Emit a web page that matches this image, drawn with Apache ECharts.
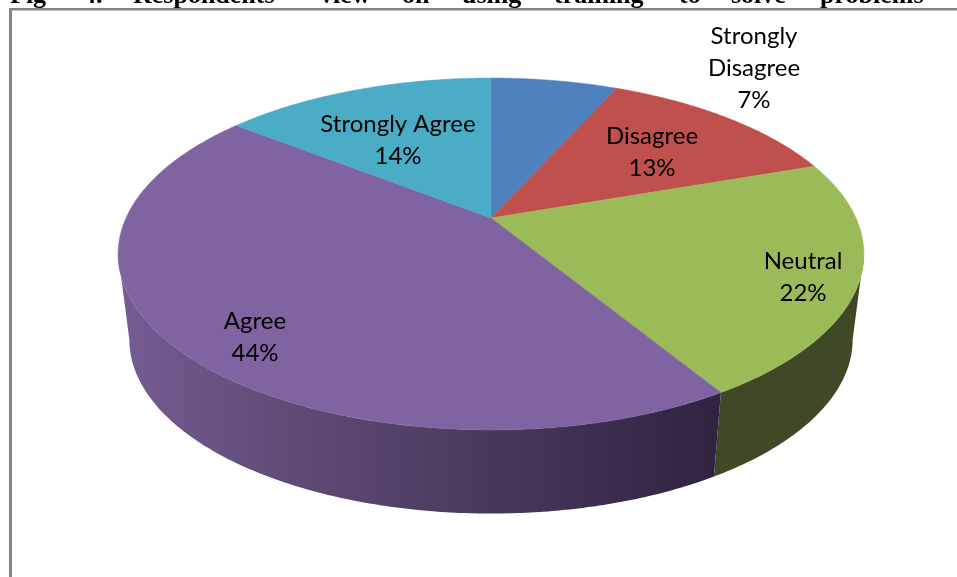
<!DOCTYPE html>
<html>
<head>
<meta charset="utf-8">
<style>
	html, body { margin: 0; padding: 0; background: #fff; }
	#main { width: 957px; height: 577px; }
</style>
<script src="https://cdn.jsdelivr.net/npm/echarts@6/dist/echarts.min.js"></script>
</head>
<body>
<div id="main"></div>
<script>
	// data (shown labels are the rounded values)
	var categories = ['Strongly Disagree', 'Disagree', 'Neutral', 'Agree', 'Strongly Agree'];
	var values = [6.7, 13.0, 21.6, 44.3, 14.4];
	var labelLines = [['Strongly', 'Disagree'], ['Disagree'], ['Neutral'], ['Agree'], ['Strongly Agree']];
	var titleWords = ['Fig', '4.', 'Respondents', 'view', 'on', 'using', 'training', 'to', 'solve', 'problems'];

	// layout + styles
	var titleX = [10, 83, 133, 320, 402, 462, 554, 679, 731, 820];
	var labelCenter = [[754, 36], [652, 136], [803, 261], [255, 321], [398, 124]];
	var topColors = ['#4f81bd', '#c0504d', '#9bbb59', '#8064a2', '#4bacc6'];
	var sideGradient = {
		type: 'linear', x: 0, y: 0, x2: 1, y2: 0,
		colorStops: [
			{offset: 0, color: '#755c93'},
			{offset: 0.3, color: '#5f4a75'},
			{offset: 1, color: '#2f2340'}
		]
	};
	var sideColors = ['#2b4560', '#672b29', '#404926', sideGradient, '#28606f'];

	// the pie is a tilted disc, so the apex sits above the centre of the ellipse
	var persp = 0.2045;
	var topFace = {x: 491, y: 218, a: 365, b: 168.6};
	var lowFace = {x: 491, y: 304, a: 354, b: 166.7};

	var total = values.reduce(function(s, v) { return s + v; }, 0);
	var starts = [];
	values.reduce(function(s, v, i) {
		starts[i] = s;
		return s + v;
	}, 0);

	function project(face, ang) {
		var w = 1 + persp * Math.cos(ang);
		return [face.x + face.a * Math.sin(ang) / w, face.y - face.b * Math.cos(ang) / w];
	}

	function rim(face, from, to) {
		var pts = [];
		var n = Math.max(2, Math.ceil(Math.abs(to - from) / 0.01));
		for (var i = 0; i <= n; i++) {
			pts.push(project(face, from + (to - from) * i / n));
		}
		return pts;
	}

	function sliceAngles(i) {
		return [starts[i] / total * Math.PI * 2, (starts[i] + values[i]) / total * Math.PI * 2];
	}

	var seriesData = categories.map(function(name, i) {
		return {name: name, value: values[i]};
	});

	function renderWall(params) {
		var i = params.dataIndex;
		var ang = sliceAngles(i);
		// only the front part of the wall is seen, between the two silhouette points
		var edge = Math.acos(-persp);
		var from = Math.max(ang[0], edge);
		var to = Math.min(ang[1], Math.PI * 2 - edge);
		if (to <= from) {
			return null;
		}
		var pts = rim(topFace, from, to).concat(rim(lowFace, to, from));
		return {type: 'polygon', shape: {points: pts}, style: {fill: sideColors[i], stroke: null}};
	}

	function renderTop(params) {
		var i = params.dataIndex;
		var ang = sliceAngles(i);
		var pts = [[topFace.x, topFace.y]].concat(rim(topFace, ang[0], ang[1]));
		return {type: 'polygon', shape: {points: pts}, style: {fill: topColors[i], stroke: topColors[i], lineWidth: 0.5}};
	}

	function renderLabel(params) {
		var i = params.dataIndex;
		var lines = labelLines[i].concat(Math.round(values[i] / total * 100) + '%');
		return {
			type: 'group',
			children: lines.map(function(txt, k) {
				return {
					type: 'text',
					style: {
						text: txt,
						x: labelCenter[i][0],
						y: labelCenter[i][1] + k * 32,
						align: 'center',
						verticalAlign: 'middle',
						fontFamily: 'Lato',
						fontSize: 24,
						fill: '#000'
					}
				};
			})
		};
	}

	var graphics = [
		{type: 'rect', shape: {x: 9, y: 8, width: 948, height: 2.5}, style: {fill: '#868686'}, silent: true},
		{type: 'rect', shape: {x: 9, y: 8, width: 3, height: 569}, style: {fill: '#868686'}, silent: true}
	];
	titleWords.forEach(function(word, i) {
		graphics.push({
			type: 'text',
			silent: true,
			style: {
				text: word,
				x: titleX[i],
				y: 9,
				align: 'left',
				verticalAlign: 'bottom',
				fontFamily: 'Liberation Serif',
				fontWeight: 'bold',
				fontSize: 26,
				fill: '#000'
			}
		});
	});

	var myChart = echarts.init(document.getElementById('main'), null, {renderer: 'canvas'});
	myChart.setOption({
		animation: false,
		backgroundColor: '#fff',
		graphic: graphics,
		series: [
			{type: 'custom', name: 'wall', coordinateSystem: 'none', silent: true, z: 2, renderItem: renderWall, data: seriesData},
			{type: 'custom', name: 'top', coordinateSystem: 'none', silent: true, z: 3, renderItem: renderTop, data: seriesData},
			{type: 'custom', name: 'labels', coordinateSystem: 'none', silent: true, z: 4, renderItem: renderLabel, data: seriesData}
		]
	});
</script>
</body>
</html>
